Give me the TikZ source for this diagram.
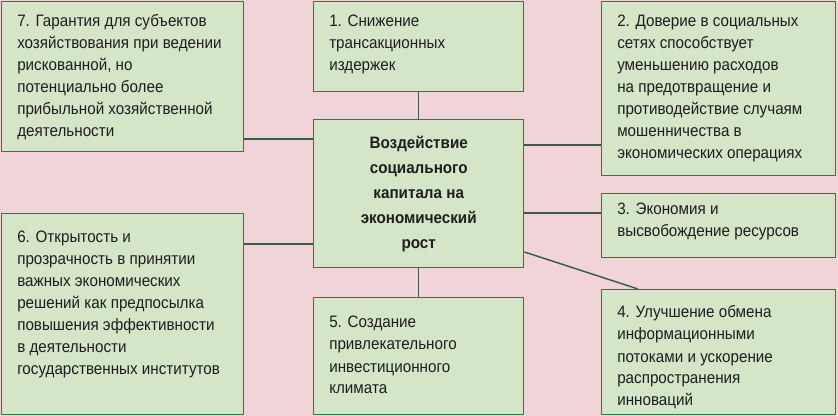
\documentclass[tikz,border=0pt]{standalone}
\usepackage{fontspec}
\setmainfont[FakeStretch=0.92]{Liberation Sans}
\usetikzlibrary{calc}
\definecolor{bgpink}{RGB}{241,212,215}
\definecolor{boxfill}{RGB}{212,229,200}
\definecolor{boxborder}{RGB}{58,114,76}
\definecolor{linecol}{RGB}{54,94,72}
\definecolor{txtcol}{RGB}{30,30,30}
\newcommand{\boxtext}[1]{\parbox[t]{230pt}{\raggedright #1}}
\begin{document}
\begin{tikzpicture}[x=0.75pt,y=-0.75pt,
  box/.style={draw=boxborder, fill=boxfill, line width=1.1pt, inner sep=0pt, anchor=north west},
  txt/.style={inner sep=0pt, anchor=base west, text=txtcol,
    font=\fontsize{12.4pt}{16.5pt}\selectfont},
  ctxt/.style={align=center, inner sep=0pt, text=txtcol,
    font=\fontsize{12.4pt}{18.75pt}\selectfont\bfseries},
  conn/.style={draw=linecol, line width=1.1pt}]
\fill[bgpink] (0,0) rectangle (838,416);
\useasboundingbox (0,0) rectangle (838,416);

\node[box, minimum width=181.5pt, minimum height=112.5pt] (b7) at (1,1) {};
\node[box, minimum width=157.5pt, minimum height=67.5pt] (b1) at (313,1) {};
\node[box, minimum width=175.5pt, minimum height=130.5pt] (b2) at (601,1) {};
\node[box, minimum width=157.5pt, minimum height=111pt] (c) at (313,119) {};
\node[box, minimum width=175.5pt, minimum height=48pt] (b3) at (601,193) {};
\node[box, minimum width=181.5pt, minimum height=150.75pt] (b6) at (1,213) {};
\node[box, minimum width=157.5pt, minimum height=87.75pt] (b5) at (313,297) {};
\node[box, minimum width=175.5pt, minimum height=93.75pt] (b4) at (601,289) {};

\node[txt] (t7) at ($(b7.north west)+(16,26)$) {\boxtext{7. Гарантия для субъектов\\хозяйствования при ведении\\рискованной, но\\потенциально более\\прибыльной хозяйственной\\деятельности}};
\node[txt] (t1) at ($(b1.north west)+(16,26)$) {\boxtext{1. Снижение\\трансакционных\\издержек}};
\node[txt] (t2) at ($(b2.north west)+(16,26)$) {\boxtext{2. Доверие в социальных\\сетях способствует\\уменьшению расходов\\на предотвращение и\\противодействие случаям\\мошенничества в\\экономических операциях}};
\node[ctxt] (tc) at (c.center) {Воздействие\\социального\\капитала на\\экономический\\рост};
\node[txt] (t3) at ($(b3.north west)+(16,22)$) {\boxtext{3. Экономия и\\высвобождение ресурсов}};
\node[txt] (t6) at ($(b6.north west)+(16,30)$) {\boxtext{6. Открытость и\\прозрачность в принятии\\важных экономических\\решений как предпосылка\\повышения эффективности\\в деятельности\\государственных институтов}};
\node[txt] (t5) at ($(b5.north west)+(16,31)$) {\boxtext{5. Создание\\привлекательного\\инвестиционного\\климата}};
\node[txt] (t4) at ($(b4.north west)+(16,29)$) {\boxtext{4. Улучшение обмена\\информационными\\потоками и ускорение\\распространения\\инноваций}};

\draw[conn] (b7.east |- 0,139) -- (c.west |- 0,139);
\draw[conn] (b1.south) -- (c.north);
\draw[conn] (c.east |- 0,145) -- (b2.west |- 0,145);
\draw[conn] (c.east |- 0,213) -- (b3.west |- 0,213);
\draw[conn] (b6.east |- 0,244) -- (c.west |- 0,244);
\draw[conn] (c.south) -- (b5.north);
\draw[conn] (c.east |- 0,252) -- (b4.north -| 638,0);
\end{tikzpicture}
\end{document}
